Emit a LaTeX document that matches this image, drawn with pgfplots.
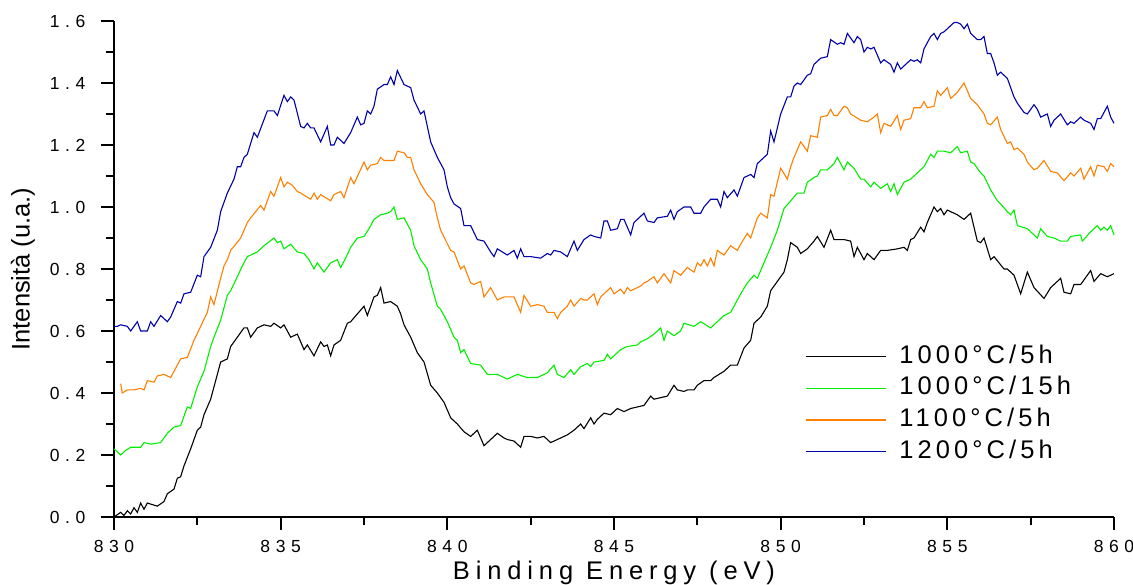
\documentclass[border=0pt]{standalone}
\usepackage{fontspec}
\setmainfont{Liberation Sans}
\newfontfamily\tickfont[LetterSpace=32]{Liberation Sans}
\newfontfamily\labfont[LetterSpace=23]{Liberation Sans}
\newfontfamily\legfont[LetterSpace=16]{Liberation Sans}
\usepackage{pgfplots}
\pgfplotsset{compat=1.18}
\definecolor{cblue}{RGB}{0,0,170}
\definecolor{corange}{RGB}{255,128,0}
\definecolor{cgreen}{RGB}{0,240,0}
\begin{document}
\begin{tikzpicture}
\begin{axis}[
  width=1000pt, height=496pt, scale only axis,
  xmin=830, xmax=860, ymin=0, ymax=1.6,
  axis x line*=bottom, axis y line*=left,
  axis line style={line width=2pt},
  xtick={830,835,840,845,850,855,860},
  xticklabels={830,835,840,845,850,855,860},
  minor x tick num=1,
  ytick={0,0.2,0.4,0.6,0.8,1.0,1.2,1.4,1.6},
  yticklabels={0.0,0.2,0.4,0.6,0.8,1.0,1.2,1.4,1.6},
  minor y tick num=1,
  tick align=outside, major tick length=13pt, minor tick length=8pt,
  every tick/.style={black, line width=2pt},
  ticklabel style={font=\tickfont\fontsize{17.5}{17.5}\selectfont},
  xticklabel style={anchor=base, yshift=-22pt},
  yticklabel style={anchor=east, xshift=-12pt},
  xlabel={Binding Energy (eV)},
  xlabel style={font=\labfont\fontsize{25.5}{25.5}\selectfont, at={(axis description cs:0.5,-0.125)}, anchor=base, inner sep=0pt},
  ylabel={Intensità (u.a.)},
  ylabel style={font=\fontsize{25.5}{25.5}\selectfont, at={(axis description cs:-0.079,0.5)}, anchor=south, inner sep=0pt},
  clip=false,
  legend cell align=left,
  legend style={at={(axis description cs:0.688,0.355)}, anchor=north west, draw=none, fill=none,
    font=\legfont\fontsize{25.5}{25.5}\selectfont, row sep=4.7pt, column sep=11pt,
    nodes={inner sep=2pt, text height=18pt, text depth=5pt}},
  legend image code/.code={\draw[#1] (0pt,0pt) -- (80pt,0pt);},
]
\addplot[black, line width=1.1pt] coordinates {
(830.0,0.00)(830.2,0.015)(830.3,0.005)(830.4,0.02)(830.5,0.01)(830.6,0.03)(830.7,0.015)(830.8,0.045)(830.9,0.025)(831.0,0.045)(831.15,0.04)(831.3,0.035)(831.5,0.05)(831.6,0.075)(831.8,0.09)(831.9,0.125)(832.0,0.13)(832.1,0.165)(832.3,0.22)(832.5,0.28)(832.6,0.29)(832.7,0.33)(832.9,0.38)(833.1,0.46)(833.2,0.50)(833.4,0.51)(833.5,0.55)(833.7,0.58)(833.9,0.61)(834.0,0.61)(834.1,0.58)(834.3,0.61)(834.5,0.62)(834.7,0.615)(834.8,0.625)(835.0,0.61)(835.1,0.62)(835.3,0.58)(835.5,0.59)(835.7,0.54)(835.8,0.555)(836.0,0.52)(836.2,0.565)(836.3,0.55)(836.4,0.555)(836.5,0.52)(836.6,0.555)(836.8,0.57)(837.0,0.625)(837.1,0.63)(837.3,0.655)(837.5,0.68)(837.6,0.65)(837.8,0.71)(837.9,0.715)(838.0,0.74)(838.1,0.69)(838.3,0.695)(838.5,0.68)(838.6,0.655)(838.7,0.62)(838.9,0.58)(839.1,0.53)(839.3,0.50)(839.5,0.425)(839.7,0.40)(839.9,0.37)(840.1,0.32)(840.3,0.30)(840.5,0.275)(840.7,0.26)(840.9,0.28)(841.1,0.23)(841.3,0.25)(841.5,0.27)(841.7,0.255)(841.8,0.25)(842.0,0.245)(842.2,0.225)(842.3,0.26)(842.5,0.26)(842.7,0.255)(842.9,0.26)(843.1,0.24)(843.3,0.25)(843.6,0.265)(843.8,0.28)(844.0,0.30)(844.1,0.285)(844.3,0.32)(844.4,0.30)(844.5,0.315)(844.7,0.335)(844.9,0.33)(845.1,0.35)(845.3,0.34)(845.5,0.35)(845.7,0.355)(845.9,0.36)(846.1,0.39)(846.2,0.38)(846.4,0.385)(846.6,0.39)(846.8,0.425)(846.9,0.41)(847.1,0.405)(847.2,0.41)(847.4,0.41)(847.5,0.425)(847.7,0.44)(847.9,0.44)(848.0,0.45)(848.3,0.47)(848.5,0.49)(848.7,0.49)(848.9,0.545)(849.1,0.57)(849.2,0.625)(849.4,0.645)(849.6,0.68)(849.7,0.73)(849.9,0.76)(850.1,0.79)(850.2,0.83)(850.3,0.885)(850.5,0.87)(850.6,0.85)(850.8,0.865)(851.0,0.89)(851.1,0.905)(851.3,0.87)(851.5,0.925)(851.6,0.895)(851.9,0.895)(852.1,0.89)(852.2,0.84)(852.3,0.87)(852.5,0.83)(852.6,0.85)(852.8,0.83)(853.0,0.86)(853.2,0.86)(853.5,0.865)(853.7,0.87)(853.8,0.86)(853.9,0.895)(854.0,0.90)(854.2,0.935)(854.3,0.92)(854.4,0.95)(854.6,1.00)(854.7,0.985)(854.8,0.995)(854.9,0.975)(855.0,0.99)(855.3,0.975)(855.5,0.96)(855.7,0.98)(855.9,0.89)(856.0,0.885)(856.1,0.90)(856.3,0.83)(856.4,0.84)(856.7,0.80)(856.8,0.80)(857.0,0.78)(857.2,0.72)(857.4,0.79)(857.6,0.74)(857.9,0.705)(858.1,0.74)(858.4,0.77)(858.5,0.725)(858.7,0.72)(858.8,0.75)(859.0,0.75)(859.3,0.795)(859.4,0.76)(859.6,0.785)(859.8,0.775)(860.0,0.785)
};
\addlegendentry{1000°C/5h}
\addplot[cgreen, line width=1.1pt] coordinates {
(830.0,0.22)(830.2,0.20)(830.35,0.215)(830.5,0.225)(830.8,0.225)(830.9,0.24)(831.1,0.235)(831.4,0.24)(831.6,0.27)(831.8,0.29)(832.0,0.295)(832.2,0.355)(832.3,0.35)(832.5,0.42)(832.7,0.47)(832.9,0.55)(833.0,0.58)(833.2,0.635)(833.4,0.715)(833.5,0.73)(833.7,0.775)(833.85,0.81)(834.0,0.84)(834.3,0.855)(834.5,0.875)(834.8,0.90)(834.9,0.885)(835.0,0.89)(835.1,0.865)(835.3,0.88)(835.5,0.855)(835.7,0.85)(835.85,0.83)(836.0,0.80)(836.1,0.82)(836.3,0.79)(836.5,0.82)(836.7,0.83)(836.8,0.805)(836.95,0.835)(837.1,0.87)(837.3,0.90)(837.5,0.905)(837.65,0.93)(837.8,0.96)(838.0,0.975)(838.2,0.98)(838.3,0.985)(838.4,1.00)(838.5,0.96)(838.7,0.965)(838.9,0.925)(839.0,0.875)(839.2,0.83)(839.4,0.80)(839.5,0.755)(839.7,0.68)(839.8,0.67)(840.0,0.63)(840.2,0.58)(840.3,0.57)(840.4,0.53)(840.5,0.54)(840.7,0.495)(841.0,0.49)(841.2,0.46)(841.5,0.46)(841.8,0.445)(842.1,0.46)(842.4,0.45)(842.7,0.45)(843.0,0.465)(843.2,0.49)(843.3,0.46)(843.5,0.45)(843.7,0.475)(843.8,0.46)(844.0,0.485)(844.2,0.495)(844.3,0.485)(844.4,0.50)(844.7,0.505)(844.8,0.525)(844.9,0.51)(845.2,0.54)(845.4,0.55)(845.7,0.555)(845.8,0.565)(846.0,0.575)(846.2,0.59)(846.4,0.61)(846.5,0.57)(846.6,0.60)(846.8,0.585)(847.0,0.60)(847.1,0.625)(847.4,0.615)(847.6,0.63)(847.9,0.61)(848.0,0.62)(848.3,0.65)(848.5,0.66)(848.8,0.72)(849.0,0.755)(849.2,0.78)(849.3,0.77)(849.5,0.82)(849.7,0.87)(849.9,0.925)(850.1,0.995)(850.3,1.02)(850.5,1.045)(850.7,1.045)(850.8,1.08)(851.0,1.095)(851.1,1.10)(851.2,1.12)(851.4,1.12)(851.6,1.14)(851.7,1.16)(851.9,1.12)(852.0,1.145)(852.2,1.125)(852.4,1.09)(852.5,1.09)(852.7,1.065)(852.8,1.08)(853.0,1.06)(853.2,1.075)(853.3,1.05)(853.4,1.075)(853.5,1.04)(853.7,1.08)(853.9,1.09)(854.1,1.11)(854.3,1.13)(854.5,1.17)(854.6,1.16)(854.7,1.18)(854.9,1.18)(855.1,1.175)(855.3,1.195)(855.4,1.175)(855.6,1.18)(855.7,1.145)(855.8,1.14)(856.0,1.11)(856.1,1.10)(856.3,1.055)(856.5,1.02)(856.6,1.01)(856.8,0.985)(856.9,0.975)(857.0,0.99)(857.1,0.94)(857.4,0.93)(857.7,0.90)(857.8,0.93)(858.0,0.905)(858.2,0.90)(858.4,0.89)(858.6,0.89)(858.7,0.905)(859.0,0.91)(859.05,0.89)(859.3,0.92)(859.5,0.94)(859.6,0.925)(859.7,0.935)(859.8,0.925)(859.9,0.94)(860.0,0.91)
};
\addlegendentry{1000°C/15h}
\addplot[corange, line width=1.1pt] coordinates {
(830.2,0.43)(830.25,0.40)(830.4,0.41)(830.6,0.41)(830.8,0.415)(830.9,0.41)(831.0,0.44)(831.2,0.435)(831.3,0.455)(831.5,0.46)(831.7,0.45)(831.85,0.48)(832.0,0.51)(832.2,0.515)(832.4,0.57)(832.6,0.615)(832.8,0.66)(832.9,0.71)(833.0,0.685)(833.15,0.75)(833.3,0.81)(833.4,0.83)(833.5,0.86)(833.8,0.90)(834.0,0.95)(834.1,0.965)(834.4,1.005)(834.5,0.99)(834.7,1.05)(834.8,1.035)(835.0,1.095)(835.1,1.065)(835.2,1.08)(835.35,1.07)(835.5,1.05)(835.6,1.045)(835.9,1.025)(836.0,1.045)(836.1,1.025)(836.2,1.04)(836.5,1.02)(836.6,1.04)(836.8,1.05)(836.9,1.03)(837.1,1.095)(837.2,1.075)(837.5,1.145)(837.6,1.12)(837.7,1.135)(837.9,1.14)(838.0,1.16)(838.1,1.15)(838.4,1.15)(838.5,1.18)(838.7,1.175)(838.8,1.16)(838.9,1.16)(839.0,1.12)(839.2,1.075)(839.4,1.04)(839.6,1.015)(839.7,0.965)(839.8,0.925)(840.1,0.86)(840.2,0.855)(840.4,0.80)(840.5,0.81)(840.7,0.755)(840.8,0.75)(841.0,0.76)(841.1,0.71)(841.3,0.74)(841.5,0.70)(841.7,0.71)(842.0,0.71)(842.2,0.66)(842.3,0.715)(842.5,0.68)(842.7,0.685)(842.9,0.68)(843.0,0.66)(843.2,0.66)(843.3,0.64)(843.4,0.66)(843.6,0.68)(843.7,0.70)(843.8,0.68)(844.0,0.705)(844.1,0.70)(844.2,0.70)(844.4,0.72)(844.5,0.685)(844.6,0.71)(844.9,0.74)(845.0,0.72)(845.2,0.735)(845.3,0.72)(845.4,0.74)(845.5,0.73)(845.8,0.745)(845.9,0.755)(846.0,0.76)(846.2,0.775)(846.3,0.755)(846.5,0.785)(846.7,0.755)(846.8,0.795)(847.0,0.78)(847.2,0.805)(847.4,0.79)(847.5,0.82)(847.6,0.81)(847.7,0.83)(847.8,0.81)(847.9,0.835)(848.0,0.81)(848.1,0.86)(848.3,0.845)(848.5,0.875)(848.7,0.86)(848.8,0.88)(849.0,0.915)(849.1,0.90)(849.3,0.965)(849.4,0.98)(849.6,0.965)(849.7,1.04)(849.8,1.035)(850.0,1.125)(850.2,1.09)(850.3,1.13)(850.4,1.16)(850.6,1.21)(850.8,1.18)(850.9,1.23)(851.1,1.225)(851.2,1.29)(851.4,1.295)(851.5,1.315)(851.6,1.295)(851.7,1.295)(851.9,1.325)(852.0,1.32)(852.1,1.30)(852.4,1.28)(852.6,1.275)(852.8,1.29)(852.9,1.30)(853.0,1.24)(853.1,1.27)(853.3,1.26)(853.5,1.295)(853.6,1.25)(853.7,1.28)(853.9,1.285)(854.0,1.32)(854.2,1.32)(854.3,1.34)(854.4,1.32)(854.6,1.325)(854.7,1.375)(854.8,1.36)(855.0,1.385)(855.1,1.35)(855.3,1.37)(855.5,1.40)(855.7,1.35)(855.8,1.34)(855.9,1.33)(856.1,1.30)(856.2,1.27)(856.3,1.265)(856.5,1.29)(856.6,1.25)(856.8,1.205)(856.9,1.21)(857.0,1.185)(857.1,1.19)(857.3,1.17)(857.4,1.145)(857.6,1.12)(857.7,1.125)(857.9,1.15)(858.1,1.115)(858.3,1.11)(858.5,1.085)(858.7,1.11)(858.8,1.10)(859.0,1.125)(859.1,1.09)(859.3,1.13)(859.4,1.10)(859.5,1.135)(859.7,1.13)(859.8,1.115)(859.9,1.14)(860.0,1.13)
};
\addlegendentry{1100°C/5h}
\addplot[cblue, line width=1.1pt] coordinates {
(830.0,0.615)(830.1,0.615)(830.2,0.62)(830.4,0.615)(830.5,0.60)(830.7,0.63)(830.8,0.60)(831.0,0.60)(831.1,0.63)(831.2,0.615)(831.4,0.65)(831.6,0.63)(831.7,0.645)(831.9,0.695)(832.0,0.69)(832.1,0.72)(832.3,0.725)(832.5,0.78)(832.6,0.775)(832.7,0.84)(832.9,0.87)(833.1,0.925)(833.2,0.985)(833.4,1.045)(833.6,1.09)(833.7,1.13)(833.8,1.13)(833.9,1.16)(834.0,1.17)(834.1,1.205)(834.2,1.24)(834.3,1.225)(834.6,1.31)(834.8,1.31)(834.9,1.295)(835.1,1.36)(835.2,1.34)(835.3,1.355)(835.4,1.345)(835.6,1.26)(835.7,1.255)(835.8,1.27)(835.9,1.255)(836.0,1.255)(836.2,1.21)(836.4,1.26)(836.5,1.20)(836.6,1.20)(836.7,1.225)(836.9,1.205)(837.1,1.24)(837.3,1.29)(837.4,1.265)(837.5,1.27)(837.6,1.31)(837.7,1.30)(837.8,1.325)(837.9,1.38)(838.1,1.395)(838.2,1.395)(838.3,1.42)(838.4,1.395)(838.5,1.44)(838.7,1.395)(838.8,1.39)(838.9,1.385)(839.0,1.345)(839.2,1.30)(839.3,1.31)(839.5,1.21)(839.7,1.16)(839.8,1.14)(839.9,1.12)(840.0,1.065)(840.1,1.03)(840.2,1.01)(840.4,0.995)(840.5,0.94)(840.7,0.94)(840.9,0.895)(841.1,0.89)(841.3,0.855)(841.4,0.84)(841.5,0.865)(841.8,0.845)(842.0,0.86)(842.1,0.835)(842.2,0.865)(842.3,0.84)(842.5,0.84)(842.8,0.835)(843.0,0.85)(843.1,0.845)(843.2,0.86)(843.4,0.855)(843.6,0.84)(843.8,0.89)(843.9,0.86)(844.1,0.895)(844.3,0.91)(844.4,0.905)(844.6,0.90)(844.7,0.955)(844.8,0.955)(844.9,0.925)(845.1,0.93)(845.2,0.96)(845.3,0.96)(845.5,0.91)(845.6,0.95)(845.9,0.98)(846.0,0.955)(846.2,0.95)(846.3,0.965)(846.6,0.97)(846.7,0.99)(846.8,0.96)(846.9,0.985)(847.1,1.00)(847.3,1.00)(847.4,0.98)(847.6,0.98)(847.7,1.00)(847.9,1.025)(848.1,1.025)(848.2,1.00)(848.3,1.05)(848.4,1.03)(848.6,1.055)(848.7,1.035)(848.9,1.095)(849.1,1.105)(849.2,1.095)(849.3,1.14)(849.5,1.16)(849.6,1.17)(849.7,1.245)(849.8,1.21)(850.0,1.30)(850.2,1.355)(850.3,1.355)(850.4,1.39)(850.5,1.40)(850.6,1.395)(850.8,1.425)(850.9,1.43)(851.0,1.46)(851.2,1.48)(851.4,1.485)(851.5,1.54)(851.7,1.525)(851.8,1.53)(851.9,1.525)(852.0,1.56)(852.2,1.53)(852.3,1.55)(852.4,1.54)(852.5,1.50)(852.6,1.515)(852.7,1.51)(852.8,1.515)(853.0,1.465)(853.1,1.475)(853.3,1.46)(853.4,1.435)(853.5,1.465)(853.6,1.445)(853.9,1.475)(854.0,1.47)(854.1,1.475)(854.2,1.465)(854.3,1.51)(854.5,1.55)(854.6,1.56)(854.7,1.54)(854.8,1.56)(854.9,1.565)(855.2,1.595)(855.3,1.595)(855.4,1.59)(855.5,1.575)(855.6,1.59)(855.7,1.56)(855.9,1.54)(856.0,1.54)(856.1,1.55)(856.2,1.495)(856.3,1.495)(856.4,1.465)(856.5,1.425)(856.6,1.435)(856.8,1.415)(856.9,1.385)(857.0,1.355)(857.1,1.335)(857.3,1.305)(857.4,1.30)(857.5,1.315)(857.6,1.33)(857.7,1.315)(857.8,1.29)(858.0,1.30)(858.1,1.26)(858.2,1.28)(858.4,1.30)(858.6,1.265)(858.7,1.275)(858.8,1.27)(859.0,1.29)(859.1,1.28)(859.3,1.27)(859.4,1.25)(859.5,1.285)(859.6,1.285)(859.8,1.325)(859.9,1.29)(860.0,1.27)
};
\addlegendentry{1200°C/5h}
\coordinate (ll) at (rel axis cs:0,0);
\coordinate (ur) at (rel axis cs:1,1);
\end{axis}
\pgfresetboundingbox
\path ([shift={(-114pt,-67pt)}]ll) rectangle ([shift={(19pt,21pt)}]ur);
\end{tikzpicture}
\end{document}
